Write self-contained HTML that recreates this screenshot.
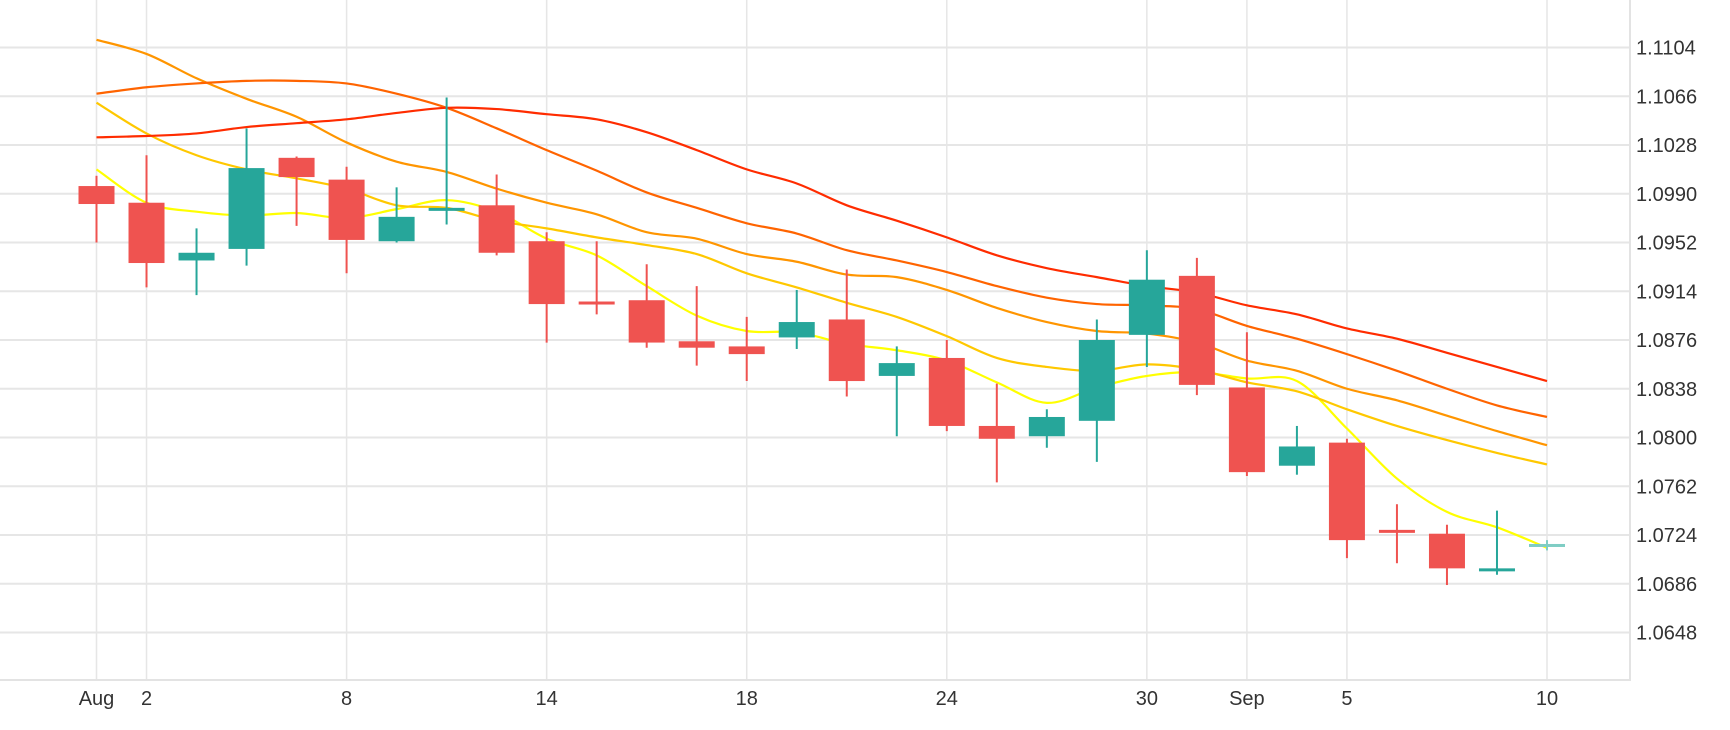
<!DOCTYPE html>
<html><head><meta charset="utf-8"><style>
html,body{margin:0;padding:0;background:#fff;}
svg{display:block;font-family:"Liberation Sans",sans-serif;}
</style></head><body>
<svg id="chart" width="1730" height="730" viewBox="0 0 1730 730" xmlns="http://www.w3.org/2000/svg">
<g id="grid"></g>
<g id="lines"></g>
<g id="candles"></g>
<g id="axes"></g>
</svg>
<script>
const dates = ["Aug","2","3","4","7","8","9","10","11","14","15","16","17","18","21","22","23","24","25","28","29","30","31","Sep","4","5","6","7","8","10"];
const tickIdx = [0,1,5,9,13,17,21,23,25,29];
const yTicks = [1.1104,1.1066,1.1028,1.0990,1.0952,1.0914,1.0876,1.0838,1.0800,1.0762,1.0724,1.0686,1.0648];
const opens  = [1.0996,1.0983,1.0938,1.0947,1.1018,1.1001,1.0953,1.0977,1.0981,1.0953,1.0906,1.0907,1.0875,1.0871,1.0878,1.0892,1.0848,1.0862,1.0809,1.0801,1.0813,1.0880,1.0926,1.0839,1.0778,1.0796,1.0728,1.0725,1.0697,1.0716];
const highs  = [1.1004,1.1020,1.0963,1.1041,1.1019,1.1011,1.0995,1.1065,1.1005,1.0960,1.0953,1.0935,1.0918,1.0894,1.0915,1.0931,1.0871,1.0876,1.0842,1.0822,1.0892,1.0946,1.0940,1.0882,1.0809,1.0799,1.0748,1.0732,1.0743,1.0720];
const lows   = [1.0952,1.0917,1.0911,1.0934,1.0965,1.0928,1.0952,1.0966,1.0942,1.0874,1.0896,1.0870,1.0856,1.0844,1.0869,1.0832,1.0801,1.0805,1.0765,1.0792,1.0781,1.0855,1.0833,1.0770,1.0771,1.0706,1.0702,1.0685,1.0693,1.0712];
const closes = [1.0982,1.0936,1.0944,1.1010,1.1003,1.0954,1.0972,1.0979,1.0944,1.0904,1.0904,1.0874,1.0870,1.0865,1.0890,1.0844,1.0858,1.0809,1.0799,1.0816,1.0876,1.0923,1.0841,1.0773,1.0793,1.0720,1.0726,1.0698,1.0698,1.0717];
const maRed    = [1.1034,1.1035,1.1037,1.1042,1.1045,1.1048,1.1053,1.1057,1.1056,1.1052,1.1048,1.1038,1.1024,1.1009,1.0998,1.0981,1.0969,1.0956,1.0942,1.0932,1.0925,1.0918,1.0913,1.0903,1.0896,1.0885,1.0877,1.0866,1.0855,1.0844];
const maOrRed  = [1.1068,1.1073,1.1076,1.1078,1.1078,1.1076,1.1068,1.1057,1.1041,1.1024,1.1008,1.0991,1.0979,1.0967,1.0959,1.0946,1.0938,1.0929,1.0918,1.0909,1.0904,1.0903,1.0900,1.0887,1.0877,1.0865,1.0852,1.0838,1.0825,1.0816];
const maOrange = [1.1110,1.1099,1.1080,1.1064,1.1050,1.1030,1.1015,1.1007,1.0994,1.0983,1.0974,1.0960,1.0955,1.0943,1.0937,1.0927,1.0925,1.0915,1.0901,1.0890,1.0883,1.0881,1.0874,1.0860,1.0852,1.0838,1.0829,1.0817,1.0805,1.0794];
const maGold   = [1.1061,1.1037,1.1020,1.1009,1.1002,1.0994,1.0981,1.0979,1.0969,1.0963,1.0956,1.0950,1.0943,1.0928,1.0917,1.0905,1.0894,1.0879,1.0862,1.0855,1.0852,1.0857,1.0853,1.0843,1.0836,1.0822,1.0809,1.0798,1.0788,1.0779];
const maYellow = [1.1009,1.0983,1.0976,1.0973,1.0975,1.0971,1.0978,1.0985,1.0976,1.0955,1.0942,1.0918,1.0895,1.0883,1.0882,1.0873,1.0868,1.0860,1.0843,1.0827,1.0839,1.0848,1.0851,1.0846,1.0844,1.0807,1.0768,1.0742,1.0730,1.0714];

const NS="http://www.w3.org/2000/svg";
const plotR=1630, plotB=680;
function x(i){return 96.5 + i*(1547-96.5)/29;}
function y(p){return 47.5 + (1.1104-p)/(1.1104-1.0648)*(632.5-47.5);}
function mk(tag,attrs,parent){const e=document.createElementNS(NS,tag);for(const k in attrs)e.setAttribute(k,attrs[k]);parent.appendChild(e);return e;}
const grid=document.getElementById('grid'), lines=document.getElementById('lines'), cg=document.getElementById('candles'), axes=document.getElementById('axes');

yTicks.forEach(t=>{
  const l=mk('line',{x1:0,x2:plotR,y1:y(t),y2:y(t),stroke:'#e6e6e6','stroke-width':2},grid);
  
  
  const tx=mk('text',{x:1636,y:y(t)+7,'font-size':20,fill:'#333'},axes);
  tx.textContent=t.toFixed(4);
  
  
});
tickIdx.forEach(i=>{
  const l=mk('line',{x1:x(i),x2:x(i),y1:0,y2:plotB,stroke:'#e6e6e6','stroke-width':1.5},grid);
  
  
  const tx=mk('text',{x:x(i),y:705,'font-size':20,fill:'#333','text-anchor':'middle'},axes);
  tx.textContent=dates[i];
  
  
});
const bb=mk('line',{x1:0,x2:plotR+1,y1:plotB,y2:plotB,stroke:'#e3e3e3','stroke-width':2},axes);


const rb=mk('line',{x1:plotR,x2:plotR,y1:0,y2:plotB,stroke:'#e3e3e3','stroke-width':2},axes);



const series=[[maYellow,'#ffff00','ma-yellow'],[maGold,'#ffc800','ma-gold'],[maOrange,'#ff9500','ma-orange'],[maOrRed,'#ff6400','ma-orange-red'],[maRed,'#ff2c00','ma-red']];
series.forEach(s=>{
  const pts=s[0].map((v,i)=>[x(i),y(v)]);
  let d='M'+pts[0][0]+','+pts[0][1];
  for(let i=1;i<pts.length;i++){
    const p0=pts[Math.max(i-2,0)],p1=pts[i-1],p2=pts[i],p3=pts[Math.min(i+1,pts.length-1)];
    const c1x=p1[0]+(p2[0]-p0[0])/6,c1y=p1[1]+(p2[1]-p0[1])/6,c2x=p2[0]-(p3[0]-p1[0])/6,c2y=p2[1]-(p3[1]-p1[1])/6;
    d+=' C'+c1x+','+c1y+' '+c2x+','+c2y+' '+p2[0]+','+p2[1];
  }
  const p=mk('path',{d:d,fill:'none',stroke:s[1],'stroke-width':2.2},lines);
  
  
});

opens.forEach((o,i)=>{
  const c=closes[i], up=c>=o;
  let col=up?'#26a69a':'#ef5350';
  if(i===opens.length-1) col='#7fcdc4';
  const g=mk('g',{},cg);
  
  
  mk('line',{x1:x(i),x2:x(i),y1:y(highs[i]),y2:y(lows[i]),stroke:col,'stroke-width':2},g);
  const top=y(Math.max(o,c)), h=Math.max(Math.abs(y(o)-y(c)),3);
  mk('rect',{x:x(i)-18,y:top,width:36,height:h,fill:col},g);
});
</script>
</body></html>
